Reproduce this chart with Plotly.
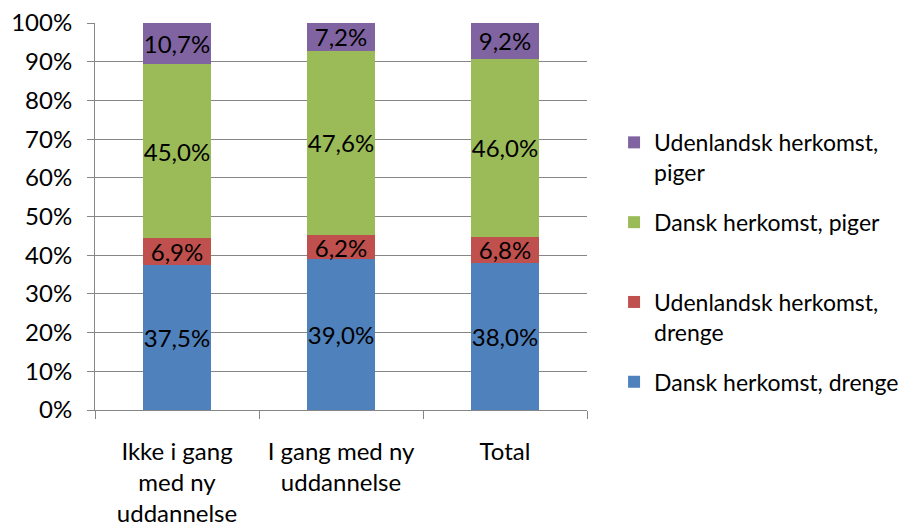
import plotly.graph_objects as go

categories = ["Ikke i gang<br>med ny<br>uddannelse", "I gang med ny<br>uddannelse", "Total"]
dansk_drenge = [37.5, 39.0, 38.0]
udl_drenge = [6.9, 6.2, 6.8]
dansk_piger = [45.0, 47.6, 46.0]
udl_piger = [10.7, 7.2, 9.2]

series = [
    ("Dansk herkomst, drenge", dansk_drenge, "#4F81BD"),
    ("Udenlandsk herkomst,<br>drenge", udl_drenge, "#C0504D"),
    ("Dansk herkomst, piger<br> ", dansk_piger, "#9BBB59"),
    ("Udenlandsk herkomst,<br>piger", udl_piger, "#8064A2"),
]

FONT = "Lato"
FS = 24
fig = go.Figure()
for i, (name, vals, col) in enumerate(series):
    fig.add_trace(go.Bar(
        x=categories, y=vals, name=name, marker=dict(color=col, line=dict(width=0)),
        text=vals, texttemplate="%{y:.1f}%", textposition="inside",
        insidetextanchor="middle", textangle=0, constraintext="none",
        textfont=dict(family=FONT, size=FS, color="black"),
        legendgroup=str(i), legendrank=10 - i,
    ))

fig.update_layout(
    barmode="stack",
    bargap=0.59,
    separators=",.",
    width=907, height=516,
    margin=dict(l=87, r=328, t=15, b=114, autoexpand=False),
    paper_bgcolor="white", plot_bgcolor="white",
    font=dict(family=FONT, size=FS, color="black"),
    legend=dict(
        traceorder="grouped", x=1.055, xanchor="left", y=0.747, yanchor="top",
        valign="top",
        font=dict(family=FONT, size=23, color="black"),
        tracegroupgap=17, itemwidth=30,
    ),
    xaxis=dict(
        automargin=False,
        showline=True, linecolor="#868686", linewidth=1,
        ticks="outside", tickson="boundaries", ticklen=8, tickcolor="#868686",
        tickfont=dict(family=FONT, size=FS, color="black"),
        ticklabelstandoff=20,
        showgrid=False,
    ),
    yaxis=dict(
        automargin=False,
        range=[0, 100], dtick=10, ticksuffix="%",
        showline=True, linecolor="#868686", linewidth=1,
        ticks="outside", ticklen=7, tickcolor="#868686",
        showgrid=True, gridcolor="#868686", gridwidth=1,
        tickfont=dict(family=FONT, size=FS, color="black"),
        ticklabelstandoff=10, ticklabeloverflow="allow",
        zeroline=False,
    ),
)

fig.write_html("out.html")
